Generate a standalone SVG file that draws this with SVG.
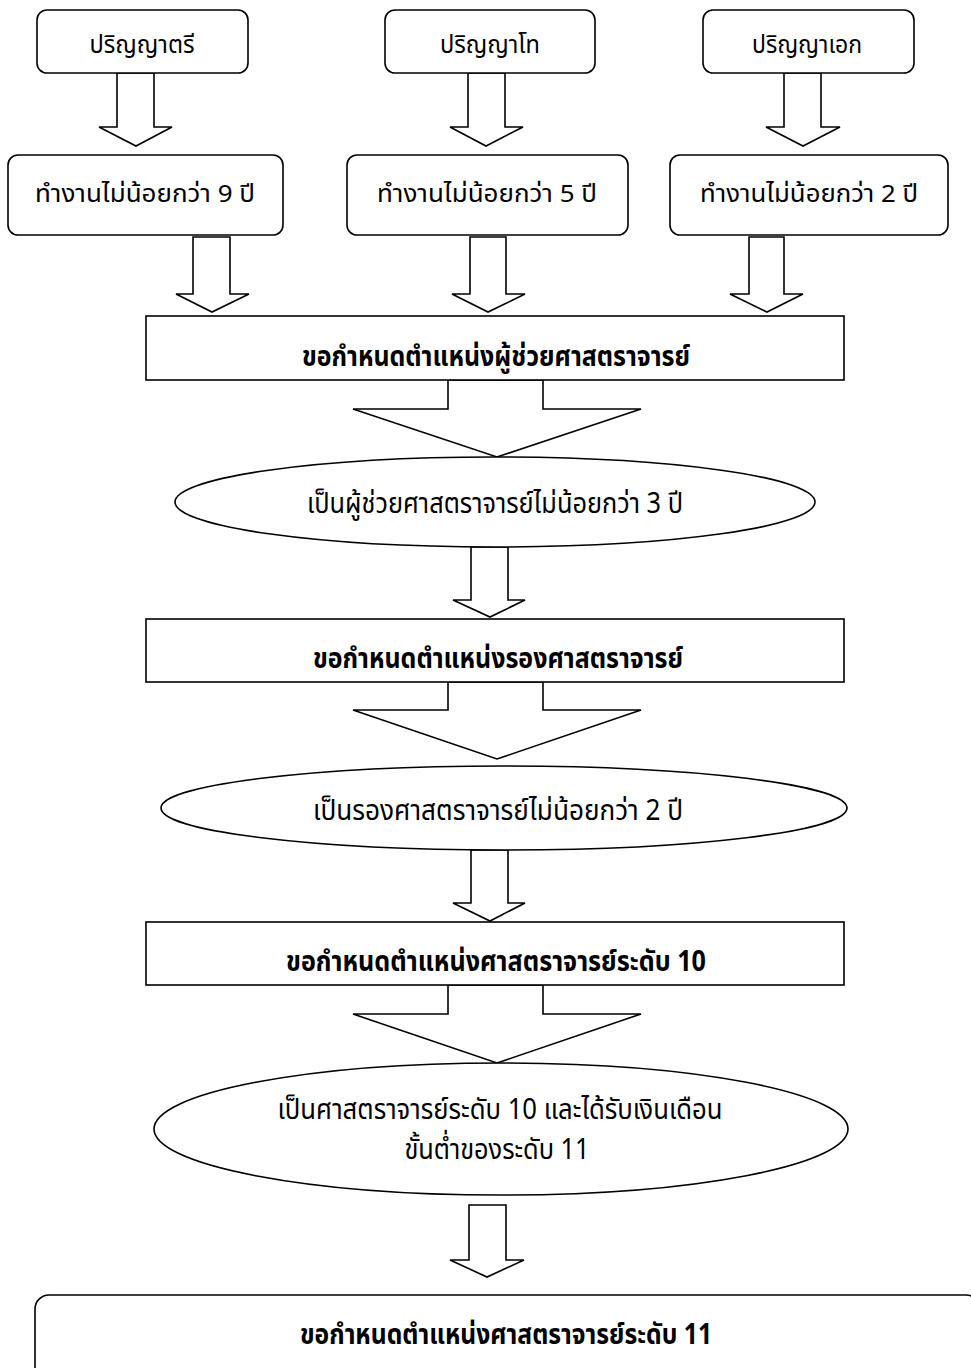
<svg xmlns="http://www.w3.org/2000/svg" width="971" height="1368" viewBox="0 0 971 1368">
<style>
  .box{fill:#fff;stroke:#000;stroke-width:1.6}
  .arr{fill:#fff;stroke:#000;stroke-width:1.6;stroke-linejoin:miter}
  .t{font-family:"Noto Sans","Noto Sans Thai",sans-serif;font-size:24px;fill:#000;text-anchor:middle}
  .e{font-family:"Noto Sans","Noto Sans Thai",sans-serif;font-size:29px;fill:#000;text-anchor:middle}
  .b{font-family:"Noto Sans","Noto Sans Thai",sans-serif;font-size:29px;font-weight:bold;fill:#000;text-anchor:middle}
</style>
<rect width="971" height="1368" fill="#fff"/>

<g id="connectors">
  <polygon class="arr" points="117,73 154,73 154,127 172,127 136,146 99,127 117,127"/>
  <polygon class="arr" points="468,73 505,73 505,127 523,127 486,146 450,127 468,127"/>
  <polygon class="arr" points="784,73 821,73 821,127 840,127 803,146 766,127 784,127"/>
  <polygon class="arr" points="193,237 230,237 230,294 249,294 212,312 176,294 193,294"/>
  <polygon class="arr" points="470,237 506,237 506,294 525,294 488,312 452,294 470,294"/>
  <polygon class="arr" points="749,237 784,237 784,294 803,294 767,312 730,294 749,294"/>
  <polygon class="arr" points="448,380 543,380 543,409 641,409 497,457 353,409 448,409"/>
  <polygon class="arr" points="471,547 508,547 508,600 525,600 490,617 453,600 471,600"/>
  <polygon class="arr" points="448,682 543,682 543,710 641,710 497,759 353,710 448,710"/>
  <polygon class="arr" points="471,850 508,850 508,903 525,903 490,921 453,903 471,903"/>
  <polygon class="arr" points="448,985 543,985 543,1014 641,1014 497,1063 353,1014 448,1014"/>
  <polygon class="arr" points="469,1205 506,1205 506,1260 524,1260 487,1277 450,1260 469,1260"/>
</g>

<g id="n-bachelor">
  <rect class="box" x="37" y="10" width="211" height="63" rx="10"/>
  <text class="t" x="142" y="53" textLength="105" lengthAdjust="spacingAndGlyphs">ปริญญาตรี</text>
</g>
<g id="n-master">
  <rect class="box" x="385" y="10" width="210" height="63" rx="10"/>
  <text class="t" x="490" y="53" textLength="100" lengthAdjust="spacingAndGlyphs">ปริญญาโท</text>
</g>
<g id="n-doctor">
  <rect class="box" x="703" y="10" width="211" height="63" rx="10"/>
  <text class="t" x="807" y="53" textLength="110" lengthAdjust="spacingAndGlyphs">ปริญญาเอก</text>
</g>
<g id="n-work9">
  <rect class="box" x="8" y="155" width="275" height="80" rx="10"/>
  <text class="t" x="145" y="202" textLength="220" lengthAdjust="spacingAndGlyphs">ทำงานไม่น้อยกว่า 9 ปี</text>
</g>
<g id="n-work5">
  <rect class="box" x="347" y="155" width="281" height="80" rx="10"/>
  <text class="t" x="487" y="202" textLength="220" lengthAdjust="spacingAndGlyphs">ทำงานไม่น้อยกว่า 5 ปี</text>
</g>
<g id="n-work2">
  <rect class="box" x="670" y="155" width="278" height="80" rx="10"/>
  <text class="t" x="809" y="202" textLength="218" lengthAdjust="spacingAndGlyphs">ทำงานไม่น้อยกว่า 2 ปี</text>
</g>

<g id="n-asst-req">
  <rect class="box" x="146" y="316" width="698" height="64"/>
  <text class="b" x="496" y="366" textLength="388" lengthAdjust="spacingAndGlyphs">ขอกำหนดตำแหน่งผู้ช่วยศาสตราจารย์</text>
</g>
<g id="n-asst-3y">
  <ellipse class="box" cx="495" cy="502" rx="320" ry="45"/>
  <text class="e" x="495" y="513" textLength="376" lengthAdjust="spacingAndGlyphs">เป็นผู้ช่วยศาสตราจารย์ไม่น้อยกว่า 3 ปี</text>
</g>
<g id="n-assoc-req">
  <rect class="box" x="146" y="619" width="698" height="63"/>
  <text class="b" x="498" y="668" textLength="370" lengthAdjust="spacingAndGlyphs">ขอกำหนดตำแหน่งรองศาสตราจารย์</text>
</g>
<g id="n-assoc-2y">
  <ellipse class="box" cx="504" cy="808" rx="343" ry="42"/>
  <text class="e" x="498" y="820" textLength="370" lengthAdjust="spacingAndGlyphs">เป็นรองศาสตราจารย์ไม่น้อยกว่า 2 ปี</text>
</g>
<g id="n-prof10-req">
  <rect class="box" x="146" y="922" width="698" height="63"/>
  <text class="b" x="496" y="971" textLength="420" lengthAdjust="spacingAndGlyphs">ขอกำหนดตำแหน่งศาสตราจารย์ระดับ 10</text>
</g>
<g id="n-prof10">
  <ellipse class="box" cx="501" cy="1129" rx="347" ry="66"/>
  <text class="e" x="500" y="1119" textLength="445" lengthAdjust="spacingAndGlyphs">เป็นศาสตราจารย์ระดับ 10 และได้รับเงินเดือน</text>
  <text class="e" x="497" y="1159" textLength="185" lengthAdjust="spacingAndGlyphs">ขั้นต่ำของระดับ 11</text>
</g>
<g id="n-prof11-req">
  <rect class="box" x="35" y="1295" width="945" height="110" rx="14"/>
  <text class="b" x="506" y="1344" textLength="412" lengthAdjust="spacingAndGlyphs">ขอกำหนดตำแหน่งศาสตราจารย์ระดับ 11</text>
</g>
</svg>
